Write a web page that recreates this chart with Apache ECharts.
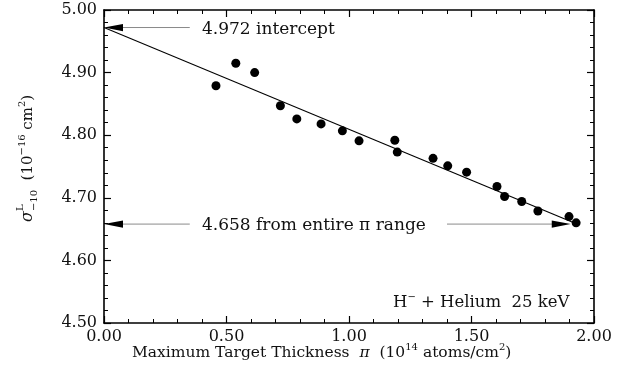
<!DOCTYPE html>
<html><head><meta charset="utf-8">
<script src="https://cdn.jsdelivr.net/npm/echarts@6/dist/echarts.min.js"></script>
<style>html,body{margin:0;padding:0;background:#fff}#c{width:626px;height:377px}</style>
</head><body><div id="c"></div>
<script>
// ---- data ----
const xTickValues = [0.00, 0.50, 1.00, 1.50, 2.00];
const yTickValues = [4.50, 4.60, 4.70, 4.80, 4.90, 5.00];
const thickness = [0.457, 0.538, 0.615, 0.720, 0.787, 0.886, 0.973, 1.041, 1.187, 1.197,
                   1.343, 1.403, 1.480, 1.604, 1.635, 1.705, 1.771, 1.898, 1.927];
const sigma     = [4.879, 4.915, 4.900, 4.847, 4.826, 4.818, 4.807, 4.791, 4.792, 4.773,
                   4.763, 4.751, 4.741, 4.718, 4.702, 4.694, 4.679, 4.670, 4.660];
const fitX = [0.00, 1.93];
const fitY = [4.972, 4.658];
const interceptValue = 4.972;
const entireRangeValue = 4.658;

// ---- styling ----
const FAMILY = "'DejaVu Serif', 'Liberation Serif', serif";
const INK = '#111';
const chart = echarts.init(document.getElementById('c'), null, {renderer: 'canvas'});

const axisCommon = {
  type: 'value',
  axisLine: {show: true, onZero: false, lineStyle: {color: '#000', width: 1.6}},
  axisTick: {show: true, inside: true, length: 7, lineStyle: {color: '#000', width: 1.2}},
  minorTick: {show: true, splitNumber: 5, length: 4, lineStyle: {color: '#000', width: 1}},
  splitLine: {show: false},
  minorSplitLine: {show: false}
};
const xMin = xTickValues[0], xMax = xTickValues[xTickValues.length - 1];
const yMin = yTickValues[0], yMax = yTickValues[yTickValues.length - 1];
const xInt = xTickValues[1] - xTickValues[0], yInt = +(yTickValues[1] - yTickValues[0]).toFixed(2);

const option = {
  animation: false,
  backgroundColor: '#fff',
  grid: {left: 104, right: 32, top: 10, bottom: 54, containLabel: false},
  xAxis: [
    Object.assign({}, axisCommon, {position: 'bottom', min: xMin, max: xMax, interval: xInt,
      axisLabel: {formatter: v => v.toFixed(2), fontFamily: FAMILY, fontSize: 16, color: INK, margin: 6}}),
    Object.assign({}, axisCommon, {position: 'top', min: xMin, max: xMax, interval: xInt,
      axisLabel: {show: false}})
  ],
  yAxis: [
    Object.assign({}, axisCommon, {position: 'left', min: yMin, max: yMax, interval: yInt,
      axisLabel: {formatter: v => v.toFixed(2), fontFamily: FAMILY, fontSize: 16, color: INK, margin: 7}}),
    Object.assign({}, axisCommon, {position: 'right', min: yMin, max: yMax, interval: yInt,
      axisLabel: {show: false}})
  ],
  series: [
    {type: 'line', name: 'fit', data: fitX.map((x, i) => [x, fitY[i]]), showSymbol: false, symbol: 'none',
      lineStyle: {color: '#000', width: 1.1}, z: 2},
    {type: 'scatter', name: 'data', data: thickness.map((x, i) => [x, sigma[i]]), symbol: 'circle',
      symbolSize: 9, itemStyle: {color: '#000', opacity: 1}, z: 3}
  ]
};
chart.setOption(option);

// ---- text helper with super/subscripts ----
const mctx = document.createElement('canvas').getContext('2d');
function richText(segs, base) {
  let x = 0; const children = []; let stackStart = null; let stackW = 0;
  for (const g of segs) {
    const size = g.s || base;
    const font = `${g.it ? 'italic ' : ''}${size}px ${FAMILY}`;
    mctx.font = font;
    const w = mctx.measureText(g.t).width;
    const px = stackStart !== null ? stackStart : x;
    children.push({type: 'text', x: px, y: (g.dy || 0),
      style: {text: g.t, font: font, fill: INK, align: 'left', verticalAlign: 'middle'}});
    if (g.stack) {
      stackStart = px; stackW = Math.max(stackW, w);
    } else if (stackStart !== null) {
      x = stackStart + Math.max(stackW, w); stackStart = null; stackW = 0;
    } else {
      x += w;
    }
  }
  return {children, width: x};
}

const P = (x, y) => chart.convertToPixel({xAxisIndex: 0, yAxisIndex: 0}, [x, y]);
const graphics = [];

function arrow(fromX, toX, yVal) {
  const a = P(fromX, yVal), b = P(toX, yVal);
  const dir = Math.sign(b[0] - a[0]);
  const headL = 19, headW = 3.6;
  graphics.push({type: 'line', shape: {x1: a[0], y1: a[1], x2: b[0] - dir * headL * 0.6, y2: b[1]},
    style: {stroke: '#8a8a8a', lineWidth: 1}, z: 5});
  graphics.push({type: 'polygon', shape: {points: [[b[0], b[1]], [b[0] - dir * headL, b[1] - headW], [b[0] - dir * headL, b[1] + headW]]},
    style: {fill: '#000'}, z: 6});
}
arrow(0.35, 0.0, interceptValue);
arrow(0.35, 0.0, entireRangeValue);
arrow(1.40, 1.905, entireRangeValue);

function placeText(segs, base, x, y, rotation) {
  const r = richText(segs, base);
  graphics.push({type: 'group', x: x, y: y, rotation: rotation || 0, children: r.children, z: 7});
  return r.width;
}
// annotations
const pI = P(0.40, interceptValue);
placeText([{t: '4.972 intercept'}], 17, pI[0], pI[1] + 2);
const pE = P(0.40, entireRangeValue);
placeText([{t: '4.658 from entire '}, {t: 'π'}, {t: ' range'}], 17, pE[0], pE[1] + 1);
// legend-like label
placeText([{t: 'H'}, {t: '−', s: 10, dy: -6}, {t: ' + Helium  25 keV'}], 16.5, 393, 303);
// x axis title
placeText([{t: 'Maximum Target Thickness  '}, {t: 'π', it: true}, {t: '  (10'}, {t: '14', s: 10, dy: -6},
  {t: ' atoms/cm'}, {t: '2', s: 10, dy: -6}, {t: ')'}], 15.5, 132, 353);
// y axis title (rotated, reading bottom-to-top)
placeText([{t: 'σ', it: true, s: 16}, {t: 'L', s: 10, dy: -8, stack: true}, {t: '−10', s: 10, dy: 6},
  {t: '  (10'}, {t: '−16', s: 10, dy: -6}, {t: ' cm'}, {t: '2', s: 10, dy: -6}, {t: ')'}], 15, 28, 222, Math.PI / 2);

chart.setOption({graphic: graphics});
</script>
</body></html>
